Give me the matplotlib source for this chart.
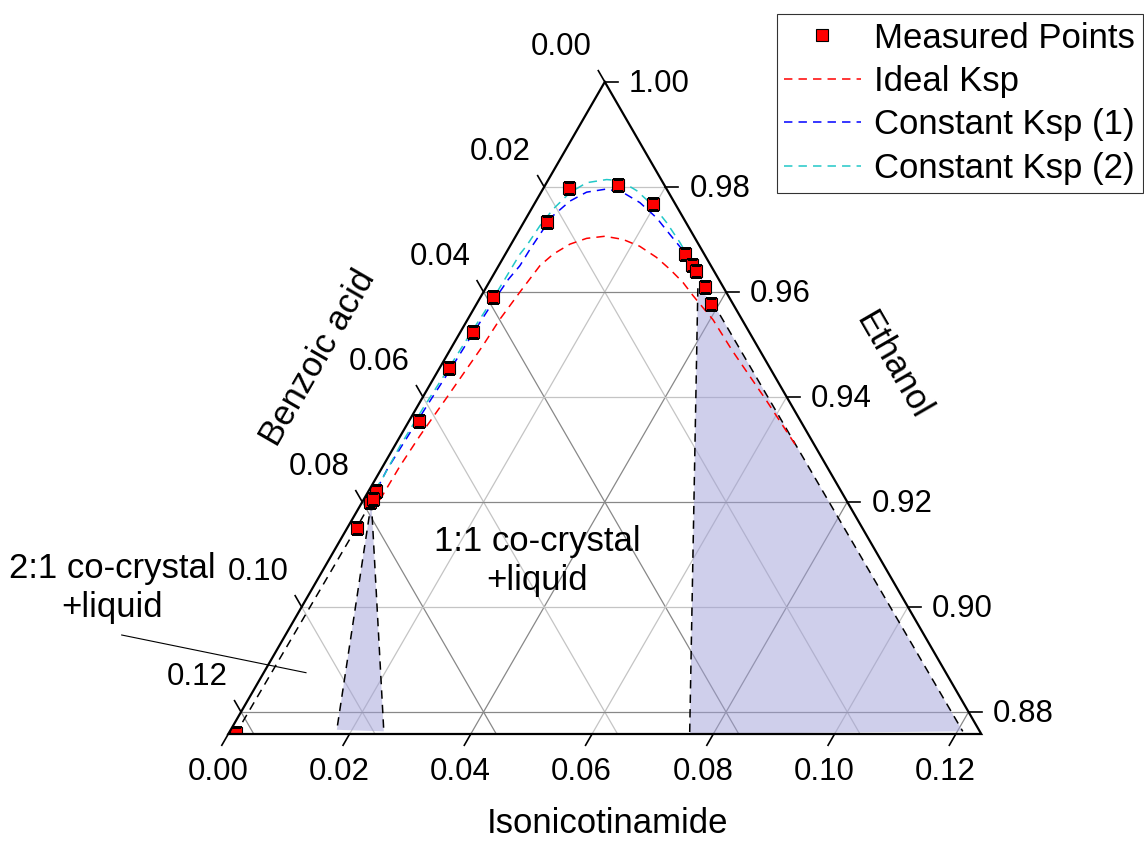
import numpy as np
import matplotlib.pyplot as plt
from matplotlib.patches import Polygon
from matplotlib.lines import Line2D

plt.rcParams['font.family'] = ['Liberation Sans', 'DejaVu Sans']

# ethanol-rich corner of the ternary diagram
E_MIN = 0.8758
SPAN = 1 - E_MIN

# measured solubility points, mole fractions (isonicotinamide, benzoic acid)
meas_ina = [0.0043, 0.0120, 0.0196, 0.0037, 0.0297, 0.0318, 0.0330, 0.0360, 0.0386,
            0.0020, 0.0021, 0.0015, 0.0016, 0.0012, 0.0013, 0.0015, 0.0015, 0.0012]
meas_ba = [0.0160, 0.0076, 0.0037, 0.0229, 0.0031, 0.0031, 0.0030, 0.0030, 0.0037,
           0.0389, 0.0455, 0.0529, 0.0630, 0.0767, 0.0788, 0.0780, 0.0834, 0.1229]

# model curves
ideal_ina = [0.0027, 0.0028, 0.0032, 0.0040, 0.0050, 0.0053, 0.0060, 0.0068, 0.0079, 0.0097,
             0.0119, 0.0147, 0.0180, 0.0214, 0.0252, 0.0286, 0.0320, 0.0349, 0.0405, 0.0458,
             0.0474, 0.0568, 0.0664]
ideal_ba = [0.0769, 0.0704, 0.0642, 0.0561, 0.0453, 0.0399, 0.0341, 0.0282, 0.0249, 0.0212,
            0.0179, 0.0147, 0.0120, 0.0099, 0.0082, 0.0071, 0.0062, 0.0058, 0.0048, 0.0046,
            0.0045, 0.0037, 0.0031]

ksp1_ina = [0.0012, 0.0010, 0.0012, 0.0015, 0.0019, 0.0022, 0.0026, 0.0029, 0.0035, 0.0036,
            0.0039, 0.0042, 0.0056, 0.0075, 0.0105, 0.0136, 0.0173, 0.0215, 0.0252, 0.0281,
            0.0321, 0.0348]
ksp1_ba = [0.0764, 0.0729, 0.0676, 0.0602, 0.0529, 0.0456, 0.0382, 0.0347, 0.0315, 0.0283,
           0.0242, 0.0213, 0.0171, 0.0135, 0.0099, 0.0075, 0.0057, 0.0044, 0.0038, 0.0033,
           0.0030, 0.0028]

ksp2_ina = [0.0009, 0.0011, 0.0009, 0.0011, 0.0015, 0.0018, 0.0022, 0.0023, 0.0024, 0.0027,
            0.0030, 0.0036, 0.0048, 0.0066, 0.0096, 0.0119, 0.0156, 0.0198, 0.0236, 0.0277,
            0.0309]
ksp2_ba = [0.0767, 0.0747, 0.0685, 0.0610, 0.0536, 0.0463, 0.0395, 0.0353, 0.0304, 0.0285,
           0.0244, 0.0206, 0.0163, 0.0126, 0.0090, 0.0069, 0.0051, 0.0038, 0.0032, 0.0029,
           0.0029]

# three-phase regions
left_ina = [0.0015, 0.0175, 0.0254]
left_ba = [0.0785, 0.1059, 0.0983]
right_ina = [0.0350, 0.0388, 0.1209, 0.0761]
right_ba = [0.0043, 0.0032, 0.0028, 0.0481]
# 2:1 co-crystal solubility line
sol21_ina = [0.0015, 0.0015, 0.0012]
sol21_ba = [0.0785, 0.0834, 0.1229]

ticks = [0.00, 0.02, 0.04, 0.06, 0.08, 0.10, 0.12]
e_ticks = [0.88, 0.90, 0.92, 0.94, 0.96, 0.98, 1.00]


def tern(ina, ba):
    ina = np.asarray(ina, float)
    ba = np.asarray(ba, float)
    wt = (1 - ina - ba - E_MIN) / SPAN
    return ina / SPAN + 0.5 * wt, wt * np.sqrt(3) / 2


fig = plt.figure(figsize=(11.44, 8.41), dpi=100)
ax = fig.add_axes([0, 0, 1, 1])
ax.set_xlim(-0.3032, 1.2161)
ax.set_ylim(-0.1421, 0.9748)
ax.axis('off')

corners = np.column_stack(tern([0, SPAN, 0], [SPAN, 0, 0]))
clip = Polygon(corners, closed=True, fill=False, lw=0, transform=ax.transData)
ax.add_patch(clip)

# grid
major = '#888888'
minor = '#c4c4c4'
for v in ticks[1:]:
    c = major if round(v / 0.04, 6) % 1 == 0 else minor
    x, y = tern([0, SPAN - v], [v, v])
    ax.plot(x, y, color=c, lw=0.9, zorder=1)
    x, y = tern([v, v], [SPAN - v, 0])
    ax.plot(x, y, color=c, lw=0.9, zorder=1)
for e in e_ticks[:-1]:
    c = major if round(e / 0.04, 6) % 1 == 0 else minor
    x, y = tern([0, 1 - e], [1 - e, 0])
    ax.plot(x, y, color=c, lw=0.9, zorder=1)

# shaded three-phase regions
for ia, ba in [(left_ina, left_ba), (right_ina, right_ba)]:
    x, y = tern(ia, ba)
    p = Polygon(np.column_stack([x, y]), closed=True, facecolor='#a0a0d8', alpha=0.5,
                edgecolor='none', zorder=2)
    ax.add_patch(p)
    p.set_clip_path(clip)

dash = (0, (5.5, 4))
# tie lines
x, y = tern(left_ina, left_ba)
for k in (1, 2):
    ax.plot([x[0], x[k]], [y[0], y[k]], color='k', lw=1.1, ls=dash, zorder=3)
x, y = tern(right_ina, right_ba)
ax.plot([x[0], x[3]], [y[0], y[3]], color='k', lw=1.1, ls=dash, zorder=3)
ax.plot([x[1], x[2]], [y[1], y[2]], color='k', lw=1.1, ls=dash, zorder=3)
x, y = tern(sol21_ina, sol21_ba)
ln, = ax.plot(x, y, color='k', lw=1.1, ls=dash, zorder=3)
ln.set_clip_path(clip)

ax.plot(*tern(ideal_ina, ideal_ba), color='red', lw=1.1, ls=dash, zorder=4)
ax.plot(*tern(ksp1_ina, ksp1_ba), color='blue', lw=1.1, ls=dash, zorder=4)
ax.plot(*tern(ksp2_ina, ksp2_ba), color='#22c8c8', lw=1.1, ls=dash, zorder=4)

pts, = ax.plot(*tern(meas_ina, meas_ba), ls='none', marker='s', ms=9,
               mfc='red', mec='k', mew=0.8, zorder=5)
pts.set_clip_path(clip)

# frame
ax.add_patch(Polygon(corners, closed=True, fill=False, edgecolor='k', lw=1.6, zorder=6))

# ticks and tick labels
L = 13 / 753
s3 = np.sqrt(3) / 2
for v in ticks:
    # benzoic acid, left side
    x, y = tern(0, v)
    ax.plot([x, x - 0.5 * L], [y, y + s3 * L], color='k', lw=1.2, zorder=6)
    ax.annotate('%.2f' % v, (x - 0.5 * L, y + s3 * L), xytext=(-37, 24),
                textcoords='offset pixels', ha='center', va='center', fontsize=22.5)
    # isonicotinamide, bottom
    x, y = tern(v, SPAN - v)
    ax.plot([x, x - 0.5 * L], [y, y - s3 * L], color='k', lw=1.2, zorder=6)
    ax.annotate('%.2f' % v, (x - 0.5 * L, y - s3 * L), xytext=(-4, -27),
                textcoords='offset pixels', ha='center', va='center', fontsize=22.5)
for e in e_ticks:
    x, y = tern(1 - e, 0)
    ax.plot([x, x + L], [y, y], color='k', lw=1.2, zorder=6)
    ax.annotate('%.2f' % e, (x + L, y), xytext=(11, -2),
                textcoords='offset pixels', ha='left', va='center', fontsize=22.5)

# axis titles
fig.text(318 / 1144, 1 - 358 / 841, 'Benzoic acid', rotation=60, fontsize=25,
         ha='center', va='center')
fig.text(893 / 1144, 1 - 365 / 841, 'Ethanol', rotation=-60, fontsize=25,
         ha='center', va='center')
fig.text(607 / 1144, 1 / 841, 'Isonicotinamide', fontsize=25,
         ha='center', va='bottom')

# region labels
fig.text(537 / 1144, 1 - 561 / 841, '1:1 co-crystal\n+liquid', fontsize=25,
         ha='center', va='center', linespacing=1.2)
fig.text(112 / 1144, 1 - 588 / 841, '2:1 co-crystal\n+liquid', fontsize=25,
         ha='center', va='center', linespacing=1.2)
fig.add_artist(Line2D([121.7 / 1144, 306 / 1144], [1 - 635 / 841, 1 - 672.7 / 841],
                      color='k', lw=0.8))

handles = [
    Line2D([], [], ls='none', marker='s', ms=9, mfc='red', mec='k', mew=0.8),
    Line2D([], [], color='red', lw=1.1, ls=dash),
    Line2D([], [], color='blue', lw=1.1, ls=dash),
    Line2D([], [], color='#22c8c8', lw=1.1, ls=dash),
]
labels = ['Measured Points', 'Ideal Ksp', 'Constant Ksp (1)', 'Constant Ksp (2)']
leg = fig.legend(handles, labels, loc='upper right', bbox_to_anchor=(1143 / 1144, 1 - 14 / 841),
                 fontsize=25, frameon=True, fancybox=False, borderaxespad=0, borderpad=0.22,
                 handlelength=2.2, handletextpad=0.4, labelspacing=0.3)
leg.get_frame().set_edgecolor('k')
leg.get_frame().set_linewidth(0.8)

fig.savefig('out.png', dpi=100)
